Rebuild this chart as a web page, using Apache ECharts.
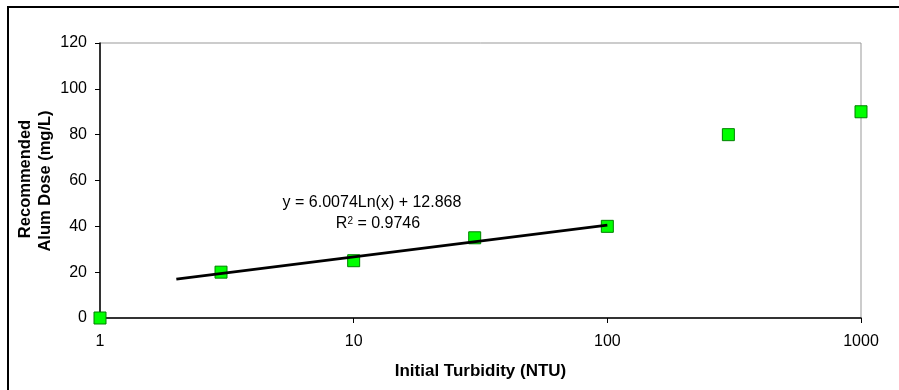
<!DOCTYPE html>
<html>
<head>
<meta charset="utf-8">
<script src="https://cdn.jsdelivr.net/npm/echarts@6/dist/echarts.min.js"></script>
<style>
  html, body { margin: 0; padding: 0; background: #fff; }
  #chart { width: 899px; height: 390px; }
</style>
</head>
<body>
<div id="chart"></div>
<script>
// measured points (turbidity NTU, alum dose mg/L)
const turbidity = [1, 3, 10, 30, 100, 300, 1000];
const alumDose = [0, 20, 25, 35, 40, 80, 90];
// log trendline as drawn: end points
const trendX = [2, 100];
const trendY = [17, 40.5];
const yTicks = [0, 20, 40, 60, 80, 100, 120];
const yTitle = ['Recommended', 'Alum Dose (mg/L)'];

const font = 'Liberation Sans, Arial, sans-serif';
const chart = echarts.init(document.getElementById('chart'), null, { renderer: 'canvas' });

// y-axis title: two rotated lines, placed by hand (v6 name auto-shift keeps moving it)
const yTitleGraphics = yTitle.map((t, i) => ({
  type: 'text',
  x: 25 + i * 20,
  y: 179 + i * 2,
  rotation: Math.PI / 2,
  style: {
    text: t,
    fill: '#000',
    font: 'bold 16.5px ' + font,
    align: 'center',
    verticalAlign: 'middle',
  },
}));

chart.setOption({
  animation: false,
  backgroundColor: '#fff',
  textStyle: { fontFamily: font },
  grid: {
    left: 100, top: 43, right: 38, bottom: 72,
    show: true, borderColor: '#999', borderWidth: 1,
  },
  xAxis: {
    type: 'log',
    logBase: 10,
    min: 1,
    max: 1000,
    name: 'Initial Turbidity (NTU)',
    nameLocation: 'middle',
    nameGap: 45,
    nameTextStyle: { fontFamily: font, fontSize: 17, fontWeight: 'bold', color: '#000' },
    axisLine: { lineStyle: { color: '#000', width: 1.5 } },
    axisTick: { inside: false, length: 5, lineStyle: { color: '#000' } },
    minorTick: { show: false },
    splitLine: { show: false },
    axisLabel: {
      fontFamily: font, fontSize: 16, color: '#000', margin: 16,
      formatter: (v) => String(v),
    },
  },
  yAxis: {
    type: 'value',
    min: yTicks[0],
    max: yTicks[yTicks.length - 1],
    interval: 20,
    axisLine: { show: true, lineStyle: { color: '#000', width: 1.5 } },
    axisTick: { show: true, inside: false, length: 5, lineStyle: { color: '#000' } },
    splitLine: { show: false },
    axisLabel: { fontFamily: font, fontSize: 16, color: '#000', margin: 13 },
  },
  series: [
    {
      type: 'scatter',
      symbol: 'rect',
      symbolSize: 12,
      itemStyle: { color: '#00ff00', borderColor: '#008000', borderWidth: 1, opacity: 1 },
      data: turbidity.map((x, i) => [x, alumDose[i]]),
      z: 2,
    },
    {
      type: 'line',
      showSymbol: false,
      lineStyle: { color: '#000', width: 2.8 },
      data: trendX.map((x, i) => [x, trendY[i]]),
      z: 3,
    },
  ],
  graphic: [
    ...yTitleGraphics,
    {
      type: 'text',
      style: {
        text: 'y = 6.0074Ln(x) + 12.868',
        x: 372, y: 203,
        fill: '#000',
        font: '16px ' + font,
        align: 'center',
        verticalAlign: 'middle',
      },
    },
    {
      type: 'text',
      style: {
        text: '{r|R}{s|2}{r| = 0.9746}',
        x: 378, y: 224,
        align: 'center',
        verticalAlign: 'middle',
        rich: {
          r: { fontFamily: font, fontSize: 16, fill: '#000' },
          s: { fontFamily: font, fontSize: 10, fill: '#000', verticalAlign: 'top', padding: [0, 0, 6, 0] },
        },
      },
    },
    {
      type: 'polyline',
      shape: { points: [[8, 390], [8, 7], [899, 7]] },
      style: { stroke: '#000', lineWidth: 2, fill: null },
    },
  ],
});
</script>
</body>
</html>
